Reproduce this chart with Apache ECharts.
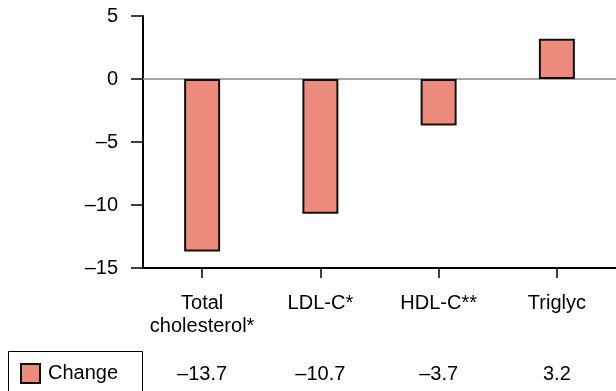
<!DOCTYPE html>
<html>
<head>
<meta charset="utf-8">
<script src="https://cdn.jsdelivr.net/npm/echarts@6/dist/echarts.min.js"></script>
<style>
html,body{margin:0;padding:0;background:#fff;}
#chart{width:616px;height:391px;}
</style>
</head>
<body>
<div id="chart"></div>
<script>
const categories = ['Total\ncholesterol*', 'LDL-C*', 'HDL-C**', 'Triglyc'];
const changeValues = [-13.7, -10.7, -3.7, 3.2];
const seriesName = 'Change';
const yTicks = { min: -15, max: 5, interval: 5 };

const FONT = "'Liberation Sans', Arial, Helvetica, sans-serif";
const FS = 20;
function fmt(v, dec) {
  const s = dec ? Math.abs(v).toFixed(dec) : String(Math.abs(v));
  return v < 0 ? '\u2013' + s : s;
}

const chart = echarts.init(document.getElementById('chart'), null, { renderer: 'canvas' });
chart.setOption({
  animation: false,
  backgroundColor: '#fff',
  textStyle: { fontFamily: FONT },
  grid: { left: 143, right: -4, top: 16, bottom: 123, containLabel: false },
  legend: {
    data: [seriesName],
    left: 20, top: 363, padding: 0,
    itemWidth: 19, itemHeight: 19,
    icon: 'rect',
    textStyle: { fontSize: FS, color: '#000', fontFamily: FONT, padding: [0, 0, 0, 3] }
  },
  xAxis: [
    {
      type: 'category',
      data: categories,
      position: 'bottom',
      axisLine: { show: true, onZero: false, lineStyle: { color: '#000', width: 2 } },
      axisTick: { show: true, interval: 0, alignWithLabel: true, length: 10, lineStyle: { color: '#000', width: 1.5 } },
      axisLabel: { interval: 0, hideOverlap: false, color: '#000', fontSize: FS, lineHeight: 23, margin: 24, fontFamily: FONT, verticalAlign: 'top' },
      splitLine: { show: false }
    },
    {
      type: 'category',
      data: changeValues.map(v => fmt(v, 1)),
      position: 'bottom',
      axisLine: { show: false, onZero: false },
      axisTick: { show: false },
      axisLabel: { interval: 0, hideOverlap: false, color: '#000', fontSize: FS, margin: 96, fontFamily: FONT, verticalAlign: 'top' },
      splitLine: { show: false }
    }
  ],
  yAxis: {
    type: 'value',
    min: yTicks.min, max: yTicks.max, interval: yTicks.interval,
    axisLine: { show: true, lineStyle: { color: '#000', width: 2 } },
    axisTick: { show: true, length: 12, lineStyle: { color: '#000', width: 1.5 } },
    axisLabel: { color: '#000', fontSize: FS, margin: 25, fontFamily: FONT, formatter: v => fmt(v) },
    splitLine: { show: false }
  },
  series: [{
    name: seriesName,
    type: 'bar',
    data: changeValues,
    barWidth: 36,
    itemStyle: { color: '#EC8A7B', borderColor: '#111', borderWidth: 2 },
    markLine: {
      silent: true,
      symbol: 'none',
      label: { show: false },
      lineStyle: { color: '#888', type: 'solid', width: 1.5 },
      data: [{ yAxis: 0 }],
      z: 1
    }
  }],
  graphic: [{
    type: 'rect',
    shape: { x: 8.5, y: 351.5, width: 134, height: 60 },
    style: { fill: 'none', stroke: '#000', lineWidth: 1 },
    silent: true
  }]
});
</script>
</body>
</html>
